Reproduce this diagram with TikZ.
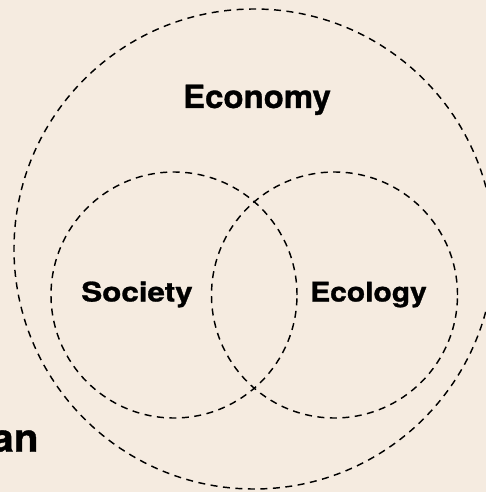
\documentclass[tikz,border=0pt]{standalone}
\usepackage{fontspec}
\setmainfont{TeX Gyre Heros}
\newfontfamily\heavy{TeX Gyre Heros}[UprightFont=*-Bold, FakeBold=1.0]
\definecolor{bgbeige}{RGB}{245,235,224}
\begin{document}
\begin{tikzpicture}[x=1pt,y=-1pt,
  ring/.style={draw=black, line width=1.45pt, dash pattern=on 7pt off 5.5pt, circle, inner sep=0pt, outer sep=0pt, fill=none},
  lbl/.style={anchor=base, inner sep=0pt, text=black}]
\path[fill=bgbeige] (0,0) rectangle (486,492);
\useasboundingbox (0,0) rectangle (486,492);
\begin{scope}
\clip (0,0) rectangle (486,492);
\node[ring, minimum size=480pt] (econ) at (254,249) {};
\node[ring, minimum size=246pt] (soc) at (174,295) {};
\node[ring, minimum size=246pt] (eco) at (334.5,295) {};
\node[lbl] (econlbl) at (257,108) {\heavy\fontsize{32pt}{38pt}\selectfont\scalebox{1.03}[1]{Economy}};
\node[lbl] (soclbl) at (137,301.5) {\heavy\fontsize{27pt}{32pt}\selectfont\scalebox{1.16}[1]{Society}};
\node[lbl] (ecolbl) at (368.5,301.5) {\heavy\fontsize{27pt}{32pt}\selectfont\scalebox{1.11}[1]{Ecology}};
\node[lbl, anchor=base east] (anlbl) at (38.7,451.7) {\heavy\fontsize{39pt}{46pt}\selectfont\scalebox{1.04}[1]{an}};
\end{scope}
\end{tikzpicture}
\end{document}
